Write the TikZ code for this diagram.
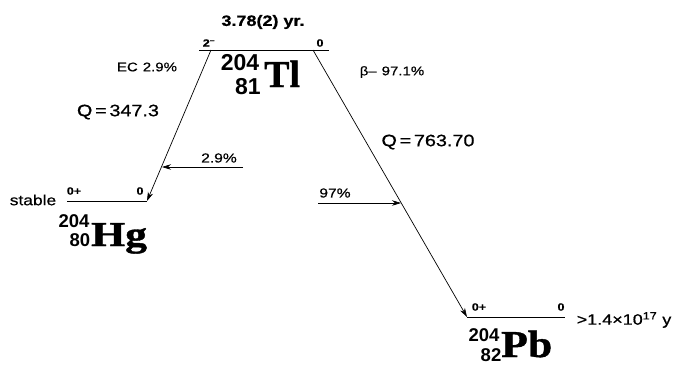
\documentclass[tikz,border=0pt]{standalone}
\usepackage{fontspec}
\setmainfont[FakeStretch=1.2,FakeBold=0.6]{Liberation Sans}
\newfontfamily\numfont{Liberation Sans}
\newfontfamily\elfont[FakeBold=1]{Liberation Serif}
\usetikzlibrary{arrows.meta}
\begin{document}
\begin{tikzpicture}[x=1pt,y=-1pt,
  lvl/.style={line width=0.9pt},
  trans/.style={line width=0.7pt,-{Stealth[length=9pt,width=5.5pt]}},
  lab/.style={inner sep=0pt,font=\fontsize{12.5}{13}\selectfont},
  ilab/.style={inner sep=0pt,font=\fontsize{13}{13}\selectfont},
  qlab/.style={inner sep=0pt,font=\fontsize{16.5}{17}\selectfont},
  spin/.style={inner sep=0pt,font=\bfseries\fontsize{10.5}{10.5}\selectfont},
  massA/.style={inner sep=0pt,font=\numfont\bfseries\fontsize{23}{23}\selectfont},
  massB/.style={inner sep=0pt,font=\numfont\bfseries\fontsize{18.5}{18.5}\selectfont},
  elem/.style={inner sep=0pt,anchor=base west,font=\elfont\bfseries\fontsize{38}{38}\selectfont},
]
\useasboundingbox (0,0) rectangle (675,368);
\fill[white] (0,0) rectangle (675,368);
% levels
\coordinate (tlL) at (199,50); \coordinate (tlR) at (329,50);
\coordinate (tlEC) at (211,50); \coordinate (tlB) at (313,50);
\coordinate (hgL) at (67,201); \coordinate (hgR) at (147,201);
\coordinate (pbL) at (467,317); \coordinate (pbR) at (565,317);
\draw[lvl] (tlL) -- (tlR);
\draw[lvl] (hgL) -- (hgR);
\draw[lvl] (pbL) -- (pbR);
% transitions
\draw[trans] (tlEC) -- (hgR);
\draw[trans] (tlB) -- (pbL);
% intensity arrows
\coordinate (ecS) at (243,167); \coordinate (ecT) at (162,167);
\coordinate (bS) at (318,203); \coordinate (bT) at (401,203);
\draw[trans] (ecS) -- (ecT);
\draw[trans] (bS) -- (bT);
% labels
\node[inner sep=0pt,font=\bfseries\fontsize{15}{15}\selectfont] (hl) at (263,22) {3.78(2) yr.};
\node[spin] (tlspin) at (209,43) {2\textsuperscript{–}};
\node[spin] (tlpar) at (320,43) {0};
\node[spin] (hgspin) at (74,191) {0+};
\node[spin] (hgpar) at (140,191) {0};
\node[spin] (pbspin) at (479,307) {0+};
\node[spin] (pbpar) at (561,307) {0};
\node[lab] (ec) at (147,67) {EC\hspace{5pt}2.9\%};
\node[lab] (beta) at (392,72) {β–\hspace{5pt}97.1\%};
\node[qlab] (q1) at (118,112) {Q\thinspace=\thinspace347.3};
\node[qlab] (q2) at (428,142) {Q\thinspace=\thinspace763.70};
\node[ilab] (i1) at (219,158) {2.9\%};
\node[ilab] (i2) at (335,193) {97\%};
\node[inner sep=0pt,font=\fontsize{14.5}{14.5}\selectfont] (stable) at (33,200) {stable};
\node[inner sep=0pt,font=\fontsize{15}{15}\selectfont] (pbhl) at (624,320) {>1.4×10\textsuperscript{17} y};
% nuclide labels
\node[massA] (tlA) at (240,63) {204};
\node[massA] (tlZ) at (248,87) {81};
\node[elem] (tl) at (264,87) {Tl};
\node[massB] (hgA) at (74,221) {204};
\node[massB] (hgZ) at (80,240) {80};
\node[elem,font=\elfont\bfseries\fontsize{35}{35}\selectfont] (hg) at (91,246) {\scalebox{1.25}[1]{Hg}};
\node[massB] (pbA) at (484,335) {204};
\node[massB] (pbZ) at (491,355) {82};
\node[elem] (pb) at (501,357) {\scalebox{1.15}[1]{Pb}};
\end{tikzpicture}
\end{document}
